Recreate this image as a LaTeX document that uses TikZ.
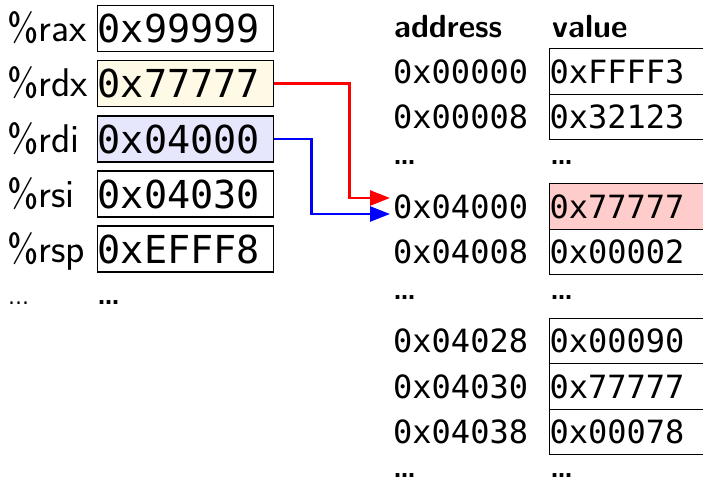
\documentclass[tikz,border=0pt]{standalone}
\usepackage{fontspec}
\setmonofont{DejaVu Sans Mono}
\newfontfamily\dvsans{DejaVu Sans}
\usetikzlibrary{arrows.meta}
\definecolor{regyellow}{RGB}{255,250,230}
\definecolor{reglav}{RGB}{230,230,252}
\definecolor{mempink}{RGB}{255,204,204}
\begin{document}
\begin{tikzpicture}[x=1pt,y=-1pt,
  regbox/.style={draw, line width=1.3pt, anchor=west, inner xsep=0pt, inner ysep=0pt,
    text width=176pt, align=left, minimum height=46pt,
    font=\fontsize{38.5}{40}\selectfont\ttfamily},
  reglabel/.style={anchor=base west, inner sep=0pt, font=\sffamily\fontsize{40}{42}\selectfont},
  memval/.style={draw, line width=1.3pt, anchor=west, inner xsep=0pt, inner ysep=0pt,
    text width=200pt, align=left, minimum height=45.5pt,
    font=\fontsize{32}{34}\selectfont\ttfamily},
  addr/.style={anchor=west, inner sep=0pt, font=\fontsize{32}{34}\selectfont\ttfamily},
  head/.style={anchor=base west, inner sep=0pt, font=\sffamily\bfseries\fontsize{32}{34}\selectfont},
  bdots/.style={anchor=base west, inner sep=0pt, font=\dvsans\bfseries\fontsize{21}{22}\selectfont},
  tdots/.style={anchor=base west, inner sep=0pt, font=\dvsans\fontsize{21}{22}\selectfont},
  ptr/.style={line width=2.6pt, -{Triangle[length=20pt,width=15pt]}}
]
\useasboundingbox (0,0) rectangle (703,482);

% registers
\node[reglabel] (lrax) at (7,41.5) {\%rax};
\node[reglabel] (lrdx) at (7,96.5) {\%rdx};
\node[reglabel] (lrdi) at (7,152) {\%rdi};
\node[reglabel] (lrsi) at (7,207) {\%rsi};
\node[reglabel] (lrsp) at (7,262) {\%rsp};
\node[regbox] (rax) at (97,28.5) {0x99999};
\node[regbox, fill=regyellow] (rdx) at (97,83.5) {0x77777};
\node[regbox, fill=reglav] (rdi) at (97,139) {0x04000};
\node[regbox] (rsi) at (97,194) {0x04030};
\node[regbox] (rsp) at (97,249) {0xEFFF8};
\node[tdots] (ldots) at (8,304) {…};
\node[bdots] (rdots) at (98,304) {…};

% memory header
\node[head] (haddr) at (394,37) {address};
\node[head] (hval) at (552,37) {value};

% memory rows
\node[addr] (a0) at (393,71.5) {0x00000};
\node[memval] (v0) at (549,71.5) {0xFFFF3};
\node[addr] (a1) at (393,117) {0x00008};
\node[memval] (v1) at (549,117) {0x32123};
\node[bdots] (ad1) at (394,164) {…};
\node[bdots] (vd1) at (551,164) {…};
\node[addr] (a2) at (393,206.5) {0x04000};
\node[memval, fill=mempink] (v2) at (549,206.5) {0x77777};
\node[addr] (a3) at (393,252) {0x04008};
\node[memval] (v3) at (549,252) {0x00002};
\node[bdots] (ad2) at (394,299) {…};
\node[bdots] (vd2) at (551,299) {…};
\node[addr] (a4) at (393,341) {0x04028};
\node[memval] (v4) at (549,341) {0x00090};
\node[addr] (a5) at (393,386.5) {0x04030};
\node[memval] (v5) at (549,386.5) {0x77777};
\node[addr] (a6) at (393,432) {0x04038};
\node[memval] (v6) at (549,432) {0x00078};
\node[bdots] (ad3) at (394,477) {…};
\node[bdots] (vd3) at (551,477) {…};

% pointers
\coordinate (tipR) at ([xshift=-3pt,yshift=8.5pt]a2.west);
\coordinate (tipB) at ([xshift=-3pt,yshift=-7.5pt]a2.west);
\draw[ptr, red] (rdx.east) -- ++(75,0) |- (tipR);
\draw[ptr, blue] (rdi.east) -- ++(37,0) |- (tipB);
\end{tikzpicture}
\end{document}
